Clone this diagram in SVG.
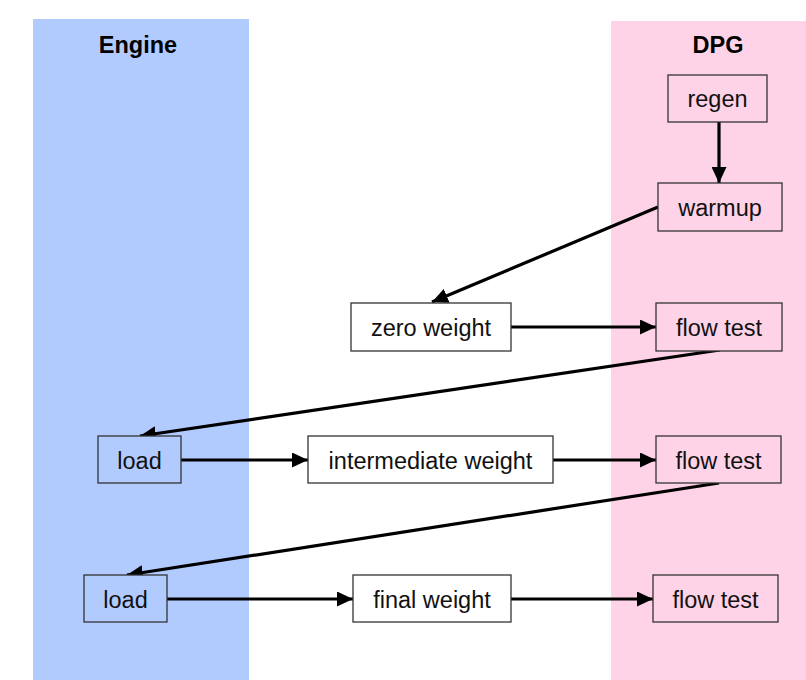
<svg xmlns="http://www.w3.org/2000/svg" width="806" height="680" viewBox="0 0 806 680">
<style>
  .lane-title { font-family: "Liberation Sans", Arial, sans-serif; font-size: 23.5px; font-weight: bold; fill: #000; text-anchor: middle; }
  .box { stroke: #333; stroke-width: 1.3; }
  .blue { fill: #b2cbff; }
  .pink { fill: #ffd3e7; }
  .white { fill: #ffffff; }
  .lbl { font-family: "Liberation Sans", Arial, sans-serif; font-size: 23.5px; fill: #111; text-anchor: middle; }
  .conn { stroke: #000; stroke-width: 3.2; fill: none; marker-end: url(#arrow); }
</style>
<defs>
  <marker id="arrow" markerUnits="userSpaceOnUse" markerWidth="17" markerHeight="15" refX="16" refY="7.5" orient="auto">
    <path d="M0,0 L16,7.5 L0,15 Z" fill="#000"/>
  </marker>
</defs>
<rect width="806" height="680" fill="#ffffff"/>
<g id="lane-engine">
  <rect x="33" y="19" width="216" height="661" class="blue"/>
  <text x="138" y="53" class="lane-title">Engine</text>
</g>
<g id="lane-dpg">
  <rect x="611" y="21" width="195" height="659" class="pink"/>
  <text x="718" y="53" class="lane-title">DPG</text>
</g>
<g id="connectors">
  <line x1="719" y1="122" x2="719" y2="183" class="conn"/>
  <line x1="658" y1="207" x2="432" y2="302" class="conn"/>
  <line x1="511" y1="327" x2="656" y2="327" class="conn"/>
  <line x1="720" y1="350" x2="140" y2="436" class="conn"/>
  <line x1="181" y1="460" x2="308" y2="460" class="conn"/>
  <line x1="553" y1="460" x2="656" y2="460" class="conn"/>
  <line x1="719" y1="483" x2="127" y2="575" class="conn"/>
  <line x1="167" y1="599" x2="353" y2="599" class="conn"/>
  <line x1="511" y1="599" x2="653" y2="599" class="conn"/>
</g>
<g id="regen">
  <rect x="668" y="75" width="99" height="47" class="box pink"/>
  <text x="717.5" y="107" class="lbl">regen</text>
</g>
<g id="warmup">
  <rect x="658" y="183" width="124" height="48" class="box pink"/>
  <text x="720" y="215.5" class="lbl">warmup</text>
</g>
<g id="zero-weight">
  <rect x="351" y="303" width="160" height="48" class="box white"/>
  <text x="431" y="335.5" class="lbl">zero weight</text>
</g>
<g id="flow-test-1">
  <rect x="656" y="303" width="126" height="48" class="box pink"/>
  <text x="719" y="335.5" class="lbl">flow test</text>
</g>
<g id="load-1">
  <rect x="98" y="436" width="83" height="47" class="box blue"/>
  <text x="139.5" y="468.5" class="lbl">load</text>
</g>
<g id="intermediate-weight">
  <rect x="308" y="436" width="245" height="47" class="box white"/>
  <text x="430.5" y="468.5" class="lbl">intermediate weight</text>
</g>
<g id="flow-test-2">
  <rect x="656" y="436" width="125" height="47" class="box pink"/>
  <text x="718.5" y="468.5" class="lbl">flow test</text>
</g>
<g id="load-2">
  <rect x="84" y="575" width="83" height="47" class="box blue"/>
  <text x="125.5" y="607.5" class="lbl">load</text>
</g>
<g id="final-weight">
  <rect x="353" y="575" width="158" height="47" class="box white"/>
  <text x="432" y="607.5" class="lbl">final weight</text>
</g>
<g id="flow-test-3">
  <rect x="653" y="575" width="125" height="47" class="box pink"/>
  <text x="715.5" y="607.5" class="lbl">flow test</text>
</g>
</svg>
